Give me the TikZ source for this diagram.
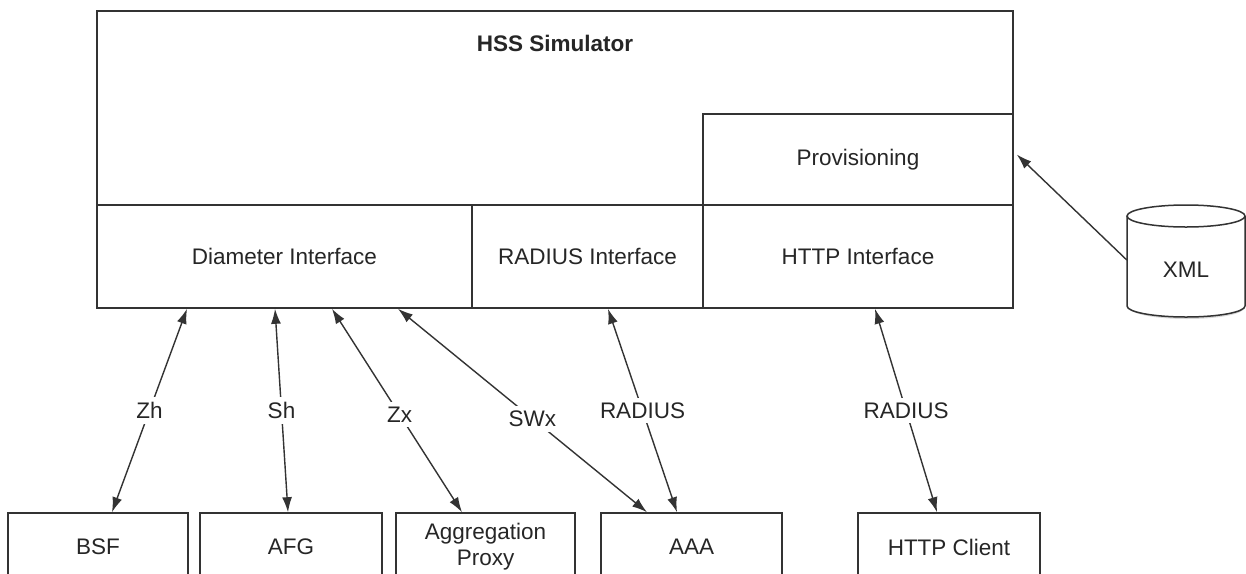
\documentclass[tikz,border=0pt]{standalone}
\usepackage{fontspec}
\setmainfont{Liberation Sans}
\usetikzlibrary{arrows.meta}
\definecolor{edge}{HTML}{333333}
\tikzset{
  box/.style={draw=edge, line width=1.6pt, fill=none, inner sep=0pt},
  lbl/.style={font=\fontsize{22.5}{26}\selectfont, text=black!85},
  link/.style={draw=edge, line width=1.4pt, {Latex[length=15pt,width=10pt]}-{Latex[length=15pt,width=10pt]}},
  feed/.style={draw=edge, line width=1.4pt, -{Latex[length=15pt,width=10pt]}},
  tag/.style={lbl, fill=white, inner sep=5pt}
}
\begin{document}
\begin{tikzpicture}[x=1pt, y=-1pt]
\useasboundingbox (0,0) rectangle (1246,573);
\fill[white] (0,0) rectangle (1246,573);
\clip (0,0) rectangle (1246,573);

% simulator frame and its inner blocks
\node[box, minimum width=916pt, minimum height=297pt] (hss) at (555,159.5) {};
\node[lbl, font=\fontsize{22.5}{26}\selectfont\bfseries] (title) at (555,43) {HSS Simulator};
\node[box, lbl, minimum width=375pt, minimum height=103pt] (diam) at (284.5,256.5) {Diameter Interface};
\node[box, lbl, minimum width=231pt, minimum height=103pt] (rad) at (587.5,256.5) {RADIUS Interface};
\node[box, lbl, minimum width=310pt, minimum height=103pt] (http) at (858,256.5) {HTTP Interface};
\node[box, lbl, minimum width=310pt, minimum height=91pt] (prov) at (858,159.5) {Provisioning};

% XML store (cylinder)
\fill[black!25, opacity=0.6] (1130,308) arc (180:360:57pt and 11pt) -- (1244,306) arc (360:180:57pt and 9pt) -- cycle;
\filldraw[draw=edge, fill=white, line width=1.5pt] (1127,216) -- (1127,306) arc (180:360:59pt and 11pt) -- (1245,216);
\filldraw[draw=edge, fill=white, line width=1.5pt] (1186,216) ellipse (59pt and 11pt);
\node[lbl, minimum width=118pt, inner sep=0pt] (xml) at (1186,270) {XML};

% external peers
\node[box, lbl, minimum width=180pt, minimum height=68pt] (bsf) at (98,547) {BSF};
\node[box, lbl, minimum width=182pt, minimum height=68pt] (afg) at (291,547) {AFG};
\node[box, lbl, minimum width=179pt, minimum height=68pt, align=center] (agg) at (485.5,547) {\fontsize{22.5}{25}\selectfont Aggregation\\Proxy};
\node[box, lbl, minimum width=181pt, minimum height=68pt] (aaa) at (691.5,547) {AAA};
\node[box, lbl, minimum width=182pt, minimum height=68pt] (httpc) at (949,547) {HTTP Client};

% reference points
\draw[link] ([xshift=-97.5pt]diam.south) -- node[tag] {Zh} ([xshift=14pt]bsf.north);
\draw[link] ([xshift=-9.5pt]diam.south) -- node[tag] {Sh} ([xshift=-3pt]afg.north);
\draw[link] ([xshift=47.5pt]diam.south) -- node[tag, pos=0.52] {Zx} ([xshift=-23.5pt]agg.north);
\draw[link] ([xshift=113.5pt]diam.south) -- node[tag, pos=0.54] {SWx} ([xshift=-44.5pt]aaa.north);
\draw[link] ([xshift=20.5pt]rad.south) -- node[tag] {RADIUS} ([xshift=-14.5pt]aaa.north);
\draw[link] ([xshift=17pt]http.south) -- node[tag] {RADIUS} ([xshift=-12pt]httpc.north);

% provisioning feed
\draw[feed] ([yshift=10pt]xml.west) -- ([xshift=3pt, yshift=5pt]prov.east);
\end{tikzpicture}
\end{document}
